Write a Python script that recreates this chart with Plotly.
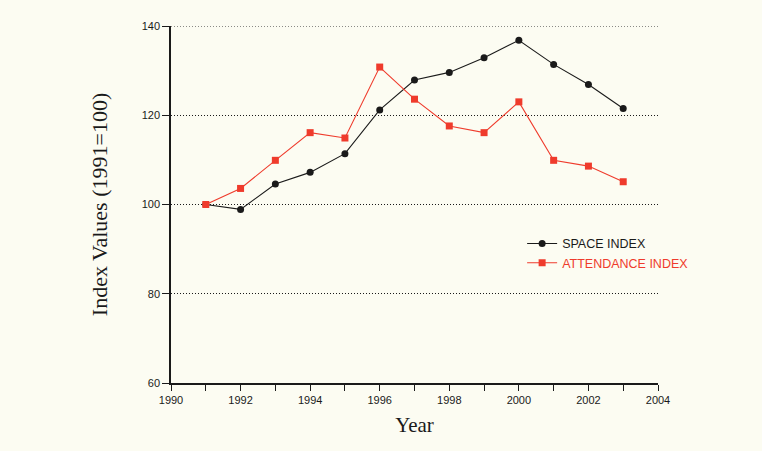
import plotly.graph_objects as go

years = [1991, 1992, 1993, 1994, 1995, 1996, 1997, 1998, 1999, 2000, 2001, 2002, 2003]
space_index = [100.0, 98.9, 104.6, 107.2, 111.4, 121.2, 127.9, 129.6, 132.9, 136.8, 131.4, 126.9, 121.5]
attendance_index = [100.0, 103.6, 109.9, 116.1, 114.9, 130.8, 123.6, 117.6, 116.1, 123.0, 109.9, 108.6, 105.1]

x_ticks = [1990, 1992, 1994, 1996, 1998, 2000, 2002, 2004]
y_ticks = [60, 80, 100, 120, 140]

BLACK = "#1a1a1a"
RED = "#ef3b2c"
BG = "#fcfcf2"

fig = go.Figure()
fig.add_trace(go.Scatter(
    x=years, y=space_index, mode="lines+markers", name="SPACE INDEX",
    line=dict(color=BLACK, width=1.1),
    marker=dict(symbol="circle", size=7, color=BLACK),
))
fig.add_trace(go.Scatter(
    x=years, y=attendance_index, mode="lines+markers",
    name=f"<span style='color:{RED}'>ATTENDANCE INDEX</span>",
    line=dict(color=RED, width=1.1),
    marker=dict(symbol="square", size=7, color=RED),
))

# top gridline (plotly omits the grid line that sits on the plot edge)
fig.add_shape(type="line", xref="paper", x0=0, x1=1, yref="y", y0=y_ticks[-1], y1=y_ticks[-1],
              line=dict(color=BLACK, width=1, dash="1px,2px"), layer="below")

fig.update_layout(
    width=762, height=451,
    paper_bgcolor=BG, plot_bgcolor=BG,
    margin=dict(l=171, r=104, t=26, b=68),
    showlegend=True,
    legend=dict(x=0.721, y=0.363, xanchor="left", yanchor="middle",
                bgcolor="rgba(0,0,0,0)",
                font=dict(family="Liberation Sans, Arial", size=12.5, color=BLACK),
                tracegroupgap=0, itemwidth=30),
    font=dict(family="Liberation Sans, Arial", size=11, color=BLACK),
)
fig.update_xaxes(
    range=[1990, 2004], tickvals=x_ticks, ticktext=[str(v) for v in x_ticks],
    showline=True, linecolor=BLACK, linewidth=1.5,
    ticks="outside", ticklen=6, tickcolor=BLACK, tickwidth=1.2,
    minor=dict(dtick=1, tick0=1990, ticks="outside", ticklen=6, tickcolor=BLACK, showgrid=False),
    showgrid=False, zeroline=False,
    title=dict(text="Year", font=dict(family="Liberation Serif, Times New Roman", size=21, color=BLACK), standoff=12),
    tickfont=dict(size=11),
)
fig.update_yaxes(
    range=[60, 140], tickvals=y_ticks,
    showline=True, linecolor=BLACK, linewidth=1.5,
    ticks="outside", ticklen=7, tickcolor=BLACK, tickwidth=1.2,
    showgrid=True, gridcolor=BLACK, griddash="1px,2px", gridwidth=1,
    zeroline=False,
    title=dict(text="Index Values (1991=100)", font=dict(family="Liberation Serif, Times New Roman", size=22, color=BLACK), standoff=28),
    tickfont=dict(size=11),
)

fig.write_html("out.html",
               config={"displayModeBar": False},
               post_script="document.body.style.margin='0';document.body.style.overflow='hidden';document.body.style.background='" + BG + "';")
